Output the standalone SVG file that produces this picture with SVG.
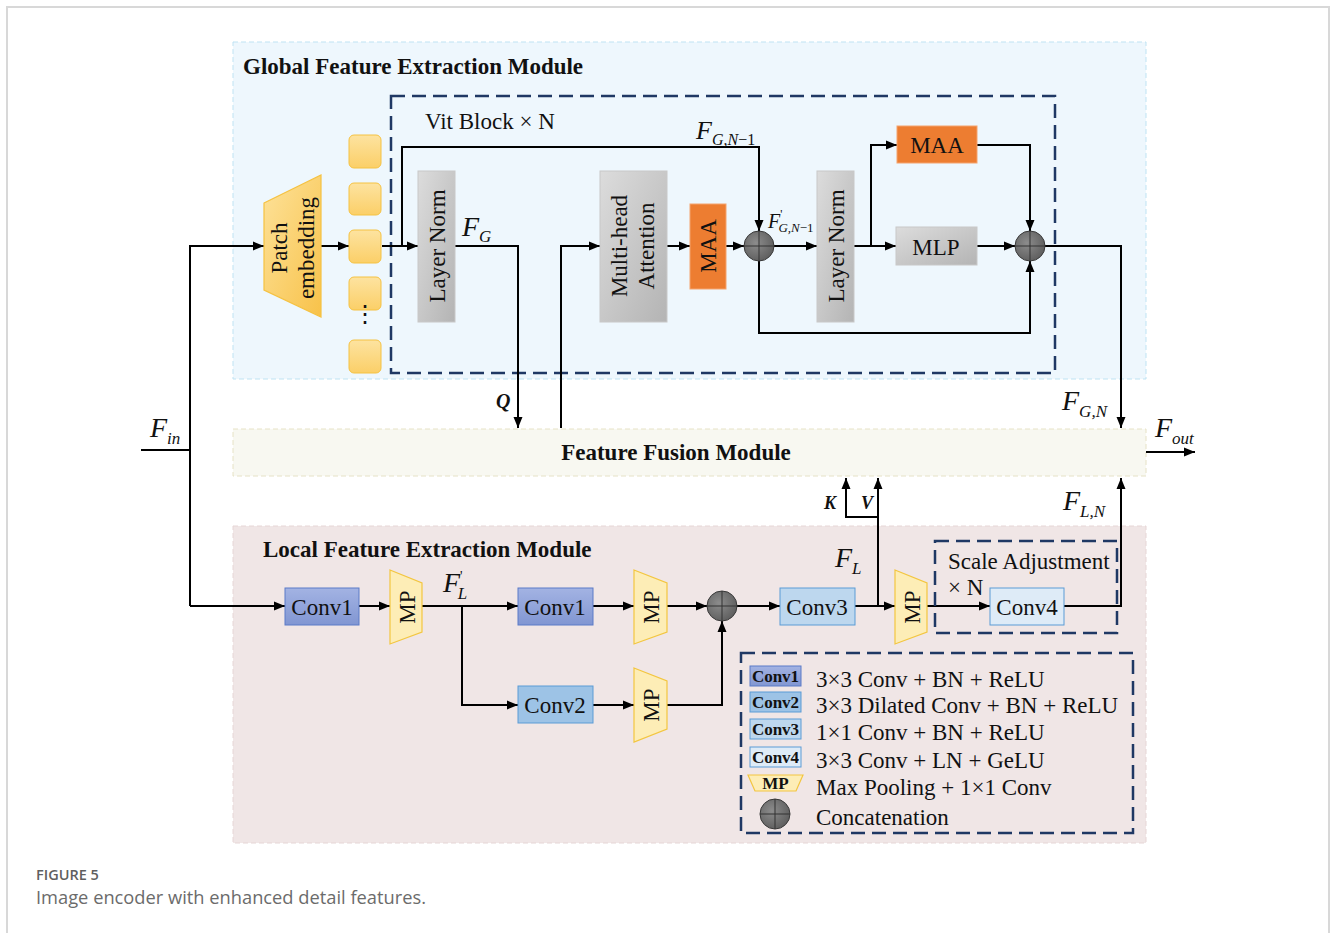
<svg xmlns="http://www.w3.org/2000/svg" width="1330" height="933" viewBox="0 0 1330 933">
<defs>
<marker id="ah" markerUnits="userSpaceOnUse" markerWidth="12" markerHeight="12" viewBox="0 0 12 12" refX="11" refY="6" orient="auto">
<path d="M0,1.5 L11,6 L0,10.5 Z" fill="#000"/>
</marker>
<linearGradient id="gGrey" x1="0" y1="0" x2="1" y2="1">
<stop offset="0" stop-color="#dcdcdc"/><stop offset="1" stop-color="#b4b4b4"/>
</linearGradient>
<linearGradient id="gPatch" x1="0" y1="0" x2="1" y2="1">
<stop offset="0" stop-color="#fde29a"/><stop offset="1" stop-color="#f8c24a"/>
</linearGradient>
<linearGradient id="gTok" x1="0" y1="0" x2="0" y2="1">
<stop offset="0" stop-color="#fde3a0"/><stop offset="1" stop-color="#fbcf68"/>
</linearGradient>
<linearGradient id="gConv1" x1="0" y1="0" x2="0" y2="1">
<stop offset="0" stop-color="#a3b3e3"/><stop offset="1" stop-color="#8196d2"/>
</linearGradient>
<radialGradient id="gCirc" cx="0.4" cy="0.4" r="0.7">
<stop offset="0" stop-color="#8c8c8c"/><stop offset="1" stop-color="#5a5a5a"/>
</radialGradient>
<g id="cat">
<circle cx="0" cy="0" r="15" fill="url(#gCirc)" stroke="#3a3a3a" stroke-width="1"/>
<path d="M-15,0 H15 M0,-15 V15" stroke="#333" stroke-width="1"/>
</g>
</defs>
<style>
.ser{font-family:"Liberation Serif","Times New Roman",serif;fill:#111;}
.t22{font-size:23px;}
.t21{font-size:23px;}
.bold{font-weight:bold;}
.ln{fill:none;stroke:#000;stroke-width:2;}
.arr{fill:none;stroke:#000;stroke-width:2;marker-end:url(#ah);}
.grey{fill:url(#gGrey);stroke:#c8c8c8;stroke-width:1;}
.maa{fill:#ed7d31;stroke:#f4a46e;stroke-width:1;}
.tok{fill:url(#gTok);stroke:#f5c242;stroke-width:1;}
.mp{fill:#fdedb6;stroke:#f3c640;stroke-width:1.2;}
.vdash{fill:none;stroke:#1f3864;stroke-width:2.5;stroke-dasharray:14 7;}
.mi{font-family:"Liberation Serif","Times New Roman",serif;font-style:italic;fill:#111;}
.cap{font-family:"Open Sans","Noto Sans",sans-serif;}
.lg{font-size:17px;}
</style>
<rect x="7" y="7" width="1322" height="940" fill="#fff" stroke="#d8d8d8" stroke-width="2"/>

<g id="global-module">
<rect x="233" y="42" width="913" height="337" fill="#eef7fd" stroke="#bfe3f3" stroke-width="1" stroke-dasharray="5 3"/>
<text x="243" y="74" class="ser t21 bold">Global Feature Extraction Module</text>
</g>
<g id="vit-block">
<rect x="391" y="96" width="664" height="277" class="vdash"/>
<text x="425" y="129" class="ser t21">Vit Block × N</text>
</g>
<g id="fusion-module">
<rect x="233" y="429" width="913" height="47" fill="#f8f8f1" stroke="#e6e2c6" stroke-width="1" stroke-dasharray="5 3"/>
<text x="676" y="460" text-anchor="middle" class="ser t21 bold">Feature Fusion Module</text>
</g>
<g id="local-module">
<rect x="233" y="526" width="913" height="317" fill="#f0e6e6" stroke="#e6d6d6" stroke-width="1" stroke-dasharray="5 3"/>
<text x="263" y="557" class="ser t21 bold">Local Feature Extraction Module</text>
</g>

<g id="connectors">
<path d="M141,450 H190 V606" class="ln"/>
<path d="M190,450 V246 H264" class="arr"/>
<path d="M321,246 H349" class="arr"/>
<path d="M382,246 H418" class="arr"/>
<path d="M402,246 V147 H759 V231" class="arr"/>
<path d="M455,246 H518 V428" class="arr"/>
<path d="M561,428 V246 H600" class="arr"/>
<path d="M667,246 H690" class="arr"/>
<path d="M726,246 H744" class="arr"/>
<path d="M774,246 H817" class="arr"/>
<path d="M854,246 H896" class="arr"/>
<path d="M871,246 V145 H897" class="arr"/>
<path d="M977,145 H1030 V231" class="arr"/>
<path d="M977,246 H1015" class="arr"/>
<path d="M759,261 V333 H1030 V261" class="arr"/>
<path d="M1045,246 H1121 V428" class="arr"/>
<path d="M1146,452 H1195" class="arr"/>
<path d="M190,606 H285" class="arr"/>
<path d="M359,606 H390" class="arr"/>
<path d="M422,606 H518" class="arr"/>
<path d="M462,606 V705 H518" class="arr"/>
<path d="M593,606 H634" class="arr"/>
<path d="M667,606 H707" class="arr"/>
<path d="M593,705 H634" class="arr"/>
<path d="M667,705 H722 V621" class="arr"/>
<path d="M737,606 H780" class="arr"/>
<path d="M855,606 H895" class="arr"/>
<path d="M878,606 V478" class="arr"/>
<path d="M878,517 H846 V478" class="arr"/>
<path d="M927,606 H990" class="arr"/>
<path d="M1064,606 H1121 V478" class="arr"/>
</g>

<g id="labels">
<text x="150" y="437" class="mi" font-size="28">F<tspan font-size="17" dy="7">in</tspan></text>
<text x="462" y="236" class="mi" font-size="28">F<tspan font-size="17" dy="6">G</tspan></text>
<text x="696" y="139" class="mi" font-size="26">F<tspan font-size="16" dy="6">G,N</tspan><tspan font-style="normal" font-size="16">−1</tspan></text>
<text x="768" y="228" class="mi" font-size="20">F<tspan font-size="12" dy="-10" font-style="normal">'</tspan><tspan font-size="13" dy="14" dx="-4">G,N</tspan><tspan font-style="normal" font-size="13">−1</tspan></text>
<text x="496" y="408" class="mi bold" font-size="20">Q</text>
<text x="1062" y="410" class="mi" font-size="28">F<tspan font-size="17" dy="7">G,N</tspan></text>
<text x="1155" y="437" class="mi" font-size="28">F<tspan font-size="17" dy="7">out</tspan></text>
<text x="824" y="509" class="mi bold" font-size="18">K</text>
<text x="861" y="509" class="mi bold" font-size="18">V</text>
<text x="1063" y="510" class="mi" font-size="28">F<tspan font-size="17" dy="7">L,N</tspan></text>
<text x="443" y="592" class="mi" font-size="28">F<tspan font-size="14" dy="-11" font-style="normal">'</tspan><tspan font-size="17" dy="18" dx="-5">L</tspan></text>
<text x="835" y="567" class="mi" font-size="28">F<tspan font-size="17" dy="7">L</tspan></text>
</g>

<g id="patch-embedding">
<path d="M264,203 L321,175 L321,317 L264,290 Z" fill="url(#gPatch)" stroke="#f5c242" stroke-width="1.2"/>
<text transform="translate(293,248) rotate(-90)" text-anchor="middle" class="ser t22"><tspan x="0" y="-6">Patch</tspan><tspan x="0" y="21">embedding</tspan></text>
</g>
<g id="tokens">
<rect x="349" y="135" width="32" height="33" rx="5" class="tok"/>
<rect x="349" y="183" width="32" height="32" rx="5" class="tok"/>
<rect x="349" y="230" width="32" height="33" rx="5" class="tok"/>
<rect x="349" y="277" width="32" height="33" rx="5" class="tok"/>
<rect x="349" y="340" width="32" height="33" rx="5" class="tok"/>
<text x="365" y="322" text-anchor="middle" class="ser" font-size="24">⋮</text>
</g>
<g id="layer-norm-1">
<rect x="418" y="171" width="37" height="151" class="grey"/>
<text transform="translate(437,246) rotate(-90)" text-anchor="middle" dominant-baseline="central" class="ser t22">Layer Norm</text>
</g>
<g id="multi-head-attention">
<rect x="600" y="171" width="67" height="151" class="grey"/>
<text transform="translate(633,246) rotate(-90)" text-anchor="middle" class="ser t22"><tspan x="0" y="-6">Multi-head</tspan><tspan x="0" y="21">Attention</tspan></text>
</g>
<g id="maa-1">
<rect x="690" y="204" width="36" height="85" class="maa"/>
<text transform="translate(708,246) rotate(-90)" text-anchor="middle" dominant-baseline="central" class="ser t22">MAA</text>
</g>
<g id="concat-1"><use href="#cat" x="759" y="246"/></g>
<g id="layer-norm-2">
<rect x="817" y="171" width="37" height="151" class="grey"/>
<text transform="translate(836,246) rotate(-90)" text-anchor="middle" dominant-baseline="central" class="ser t22">Layer Norm</text>
</g>
<g id="maa-2">
<rect x="897" y="126" width="80" height="37" class="maa"/>
<text x="937" y="153" text-anchor="middle" class="ser t22">MAA</text>
</g>
<g id="mlp">
<rect x="896" y="227" width="81" height="38" class="grey"/>
<text x="936" y="255" text-anchor="middle" class="ser t22">MLP</text>
</g>
<g id="concat-2"><use href="#cat" x="1030" y="246"/></g>

<g id="conv1-a">
<rect x="285" y="588" width="74" height="37" fill="url(#gConv1)" stroke="#5b7bc7" stroke-width="1"/>
<text x="322" y="615" text-anchor="middle" class="ser t22">Conv1</text>
</g>
<g id="mp-1">
<path d="M390,570 L422,583 L422,632 L390,644 Z" class="mp"/>
<text transform="translate(407,607) rotate(-90)" text-anchor="middle" dominant-baseline="central" class="ser t22">MP</text>
</g>
<g id="conv1-b">
<rect x="518" y="588" width="75" height="37" fill="url(#gConv1)" stroke="#5b7bc7" stroke-width="1"/>
<text x="555" y="615" text-anchor="middle" class="ser t22">Conv1</text>
</g>
<g id="mp-2">
<path d="M634,570 L667,583 L667,632 L634,644 Z" class="mp"/>
<text transform="translate(651,607) rotate(-90)" text-anchor="middle" dominant-baseline="central" class="ser t22">MP</text>
</g>
<g id="conv2">
<rect x="518" y="686" width="75" height="37" fill="#9dc3e6" stroke="#5b9bd5" stroke-width="1"/>
<text x="555" y="713" text-anchor="middle" class="ser t22">Conv2</text>
</g>
<g id="mp-3">
<path d="M634,668 L667,681 L667,729 L634,742 Z" class="mp"/>
<text transform="translate(651,705) rotate(-90)" text-anchor="middle" dominant-baseline="central" class="ser t22">MP</text>
</g>
<g id="concat-3"><use href="#cat" x="722" y="606"/></g>
<g id="conv3">
<rect x="780" y="588" width="75" height="37" fill="#bdd7ee" stroke="#5b9bd5" stroke-width="1"/>
<text x="817" y="615" text-anchor="middle" class="ser t22">Conv3</text>
</g>
<g id="mp-4">
<path d="M895,570 L927,583 L927,632 L895,644 Z" class="mp"/>
<text transform="translate(912,607) rotate(-90)" text-anchor="middle" dominant-baseline="central" class="ser t22">MP</text>
</g>
<g id="scale-adjustment">
<rect x="935" y="541" width="182" height="92" class="vdash"/>
<text x="948" y="569" class="ser t21">Scale Adjustment</text>
<text x="948" y="595" class="ser t21">× N</text>
</g>
<g id="conv4">
<rect x="990" y="588" width="74" height="37" fill="#deebf7" stroke="#5b9bd5" stroke-width="1"/>
<text x="1027" y="615" text-anchor="middle" class="ser t22">Conv4</text>
</g>

<g id="legend">
<rect x="741" y="653" width="392" height="180" class="vdash"/>
<rect x="750" y="666" width="51" height="20" fill="url(#gConv1)" stroke="#5b7bc7" stroke-width="1"/>
<text x="775.5" y="682" text-anchor="middle" class="ser bold lg">Conv1</text>
<text x="816" y="687" class="ser t21">3×3 Conv + BN + ReLU</text>
<rect x="750" y="692" width="51" height="20" fill="#9dc3e6" stroke="#5b9bd5" stroke-width="1"/>
<text x="775.5" y="708" text-anchor="middle" class="ser bold lg">Conv2</text>
<text x="816" y="713" class="ser t21">3×3 Dilated Conv + BN + ReLU</text>
<rect x="750" y="719" width="51" height="20" fill="#bdd7ee" stroke="#5b9bd5" stroke-width="1"/>
<text x="775.5" y="735" text-anchor="middle" class="ser bold lg">Conv3</text>
<text x="816" y="740" class="ser t21">1×1 Conv + BN + ReLU</text>
<rect x="750" y="747" width="51" height="20" fill="#deebf7" stroke="#5b9bd5" stroke-width="1"/>
<text x="775.5" y="763" text-anchor="middle" class="ser bold lg">Conv4</text>
<text x="816" y="768" class="ser t21">3×3 Conv + LN + GeLU</text>
<path d="M748,775 L803,775 L796,791 L755,791 Z" class="mp"/>
<text x="775.5" y="789" text-anchor="middle" class="ser bold lg">MP</text>
<text x="816" y="795" class="ser t21">Max Pooling + 1×1 Conv</text>
<use href="#cat" x="775" y="814"/>
<text x="816" y="825" class="ser t21">Concatenation</text>
</g>

<g id="caption">
<text x="36" y="880" class="cap" font-size="14.5" font-weight="600" fill="#5f5f5f">FIGURE 5</text>
<text x="36" y="904" class="cap" font-size="18.3" fill="#6b6b6b">Image encoder with enhanced detail features.</text>
</g>
</svg>
